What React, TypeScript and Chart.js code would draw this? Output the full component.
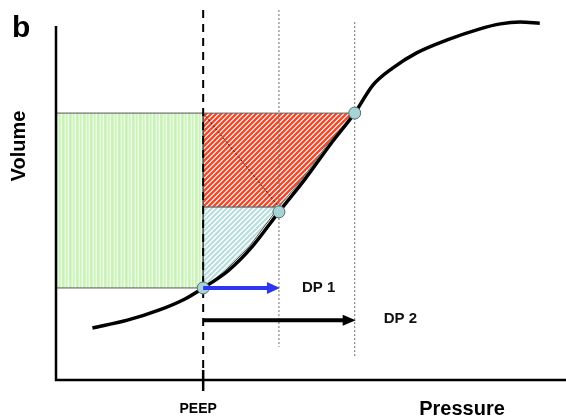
import { useEffect, useRef } from 'react';
import { Chart, registerables } from 'chart.js';

Chart.register(...registerables);

// ---- data (pressure / volume in arbitrary units) ----
const PRESSURE = [2.5, 4.9, 7.1, 8.85, 10.1, 11.8, 13.45, 15.3, 17.1, 18.8, 20.5, 21.75, 23.1, 24.75, 26.8, 29.1, 30.5, 31.85, 33.2];
const VOLUME = [14.7, 16.9, 19.8, 22.9, 26.0, 30.8, 37.6, 47.5, 56.8, 66.4, 75.4, 83.3, 88.1, 92.4, 96.0, 99.2, 100.6, 101.1, 100.8];

const PEEP = 10.1;
const P1 = 15.3;
const P2 = 20.5;
const V_EELV = 26.0;
const V_MID = 48.9;
const V_TOP = 75.4;

const MARKER_P = [PEEP, P1, P2];
const MARKER_V = [26.0, 47.5, 75.4];

const GUIDE_P = [PEEP, P1, P2];
const GUIDE_TOP = [104.5, 104.5, 101.1];
const GUIDE_BOTTOM = [3.0, 9.3, 6.2];

const ARROW_END = [P1, P2];
const ARROW_V = [26.0, 16.9];
const ARROW_LABELS = ['DP 1', 'DP 2'];
const ARROW_COLORS = ['#2f36f2', '#000000'];

const X_MIN = 0;
const X_MAX = 35;
const Y_MIN = 0;
const Y_MAX = 100;

const EDGE_SHIFT = -0.2;
const FONT = '"Liberation Sans", Arial, Helvetica, sans-serif';

function makeGreen(): CanvasPattern | string {
  const c = document.createElement('canvas');
  c.width = 7;
  c.height = 1;
  const g = c.getContext('2d');
  if (!g) return '#d6f6c8';
  const cols = ['#c9f1b6', '#d6f6c8', '#e3fadb', '#cff3be', '#d9f7cc', '#f0fcea', '#cdf2bb'];
  cols.forEach((col, i) => {
    g.fillStyle = col;
    g.fillRect(i, 0, 1, 1);
  });
  return g.createPattern(c, 'repeat') || '#d6f6c8';
}

function makeDiag(bg: string, fg: string, size: number, lw: number): CanvasPattern | string {
  const c = document.createElement('canvas');
  c.width = size;
  c.height = size;
  const g = c.getContext('2d');
  if (!g) return fg;
  g.fillStyle = bg;
  g.fillRect(0, 0, size, size);
  g.strokeStyle = fg;
  g.lineWidth = lw;
  g.beginPath();
  g.moveTo(-1, 1);
  g.lineTo(1, -1);
  g.moveTo(0, size);
  g.lineTo(size, 0);
  g.moveTo(size - 1, size + 1);
  g.lineTo(size + 1, size - 1);
  g.stroke();
  return g.createPattern(c, 'repeat') || fg;
}

const overlay = {
  id: 'overlay',
  afterDatasetsDraw(chart: any) {
    const { ctx, scales } = chart;
    const xs = scales.x;
    const ys = scales.y;
    ctx.save();
    ARROW_END.forEach((end, i) => {
      const x0 = xs.getPixelForValue(PEEP);
      const x1 = xs.getPixelForValue(end);
      const yy = ys.getPixelForValue(ARROW_V[i]);
      const col = ARROW_COLORS[i];
      const head = 12;
      const half = i === 0 ? 6 : 5.5;
      ctx.strokeStyle = col;
      ctx.lineWidth = 4;
      ctx.beginPath();
      ctx.moveTo(x0, yy);
      ctx.lineTo(x1 - head + 1, yy);
      ctx.stroke();
      ctx.fillStyle = col;
      ctx.beginPath();
      ctx.moveTo(x1 + 1, yy);
      ctx.lineTo(x1 - head, yy - half);
      ctx.lineTo(x1 - head, yy + half);
      ctx.closePath();
      ctx.fill();
      ctx.font = 'bold 15px ' + FONT;
      ctx.fillStyle = '#111';
      ctx.textAlign = 'left';
      ctx.textBaseline = 'alphabetic';
      ctx.fillText(ARROW_LABELS[i], x1 + (i === 0 ? 23 : 29), yy + (i === 0 ? 4 : 3));
    });
    ctx.restore();
  },
  afterDraw(chart: any) {
    const { ctx, chartArea: a, scales } = chart;
    const xs = scales.x;
    ctx.save();
    ctx.strokeStyle = '#000';
    ctx.lineWidth = 2.5;
    ctx.beginPath();
    ctx.moveTo(a.left, a.top);
    ctx.lineTo(a.left, a.bottom);
    ctx.lineTo(Math.max(a.right, chart.width) + 2, a.bottom);
    ctx.stroke();
    const px = xs.getPixelForValue(PEEP);
    ctx.beginPath();
    ctx.moveTo(px, a.bottom - 10);
    ctx.lineTo(px, a.bottom + 11);
    ctx.stroke();

    ctx.fillStyle = '#000';
    ctx.textBaseline = 'alphabetic';
    ctx.font = 'bold 30px ' + FONT;
    ctx.textAlign = 'left';
    ctx.fillText('b', 12, 37);

    ctx.font = 'bold 14px ' + FONT;
    ctx.textAlign = 'center';
    ctx.fillText('PEEP', px - 5, 413);

    ctx.font = 'bold 20px ' + FONT;
    ctx.fillText('Pressure', 462, 415);

    ctx.save();
    ctx.translate(25, 146);
    ctx.rotate(-Math.PI / 2);
    ctx.fillText('Volume', 0, 0);
    ctx.restore();
    ctx.restore();
  },
};

export default function App() {
  const ref = useRef<HTMLCanvasElement | null>(null);

  useEffect(() => {
    document.body.style.margin = '0';
    const canvas = ref.current;
    if (!canvas) return;

    const curve = PRESSURE.map((p, i) => ({ x: p, y: VOLUME[i] }));
    const lower = curve.filter((d) => d.x > PEEP && d.x < P1).map((d) => ({ x: d.x + EDGE_SHIFT, y: d.y }));
    const upper = curve
      .filter((d) => d.x > P1 && d.x < P2)
      .map((d) => ({ x: d.x + EDGE_SHIFT, y: d.y }))
      .reverse();

    const green = [
      { x: X_MIN, y: V_TOP },
      { x: PEEP, y: V_TOP },
      { x: PEEP, y: V_EELV },
      { x: X_MIN, y: V_EELV },
      { x: X_MIN, y: V_TOP },
    ];
    const red = [
      { x: PEEP, y: V_TOP },
      { x: P2, y: V_TOP },
      ...upper,
      { x: P1, y: V_MID },
      { x: PEEP, y: V_MID },
      { x: PEEP, y: V_TOP },
    ];
    const blue = [
      { x: PEEP, y: V_EELV },
      ...lower,
      { x: P1, y: V_MID },
      { x: PEEP, y: V_MID },
      { x: PEEP, y: V_EELV },
    ];

    const poly = (data: any[], fill: any, border: string) => ({
      data,
      backgroundColor: fill,
      borderColor: border,
      borderWidth: 1,
      fill: 'shape',
      pointRadius: 0,
      tension: 0,
      order: 20,
    });

    const guides = GUIDE_P.map((p, i) => ({
      data: [
        { x: p, y: GUIDE_TOP[i] },
        { x: p, y: GUIDE_BOTTOM[i] },
      ],
      borderColor: i === 0 ? '#000' : '#6a6a6a',
      borderWidth: i === 0 ? 2 : 1,
      borderDash: i === 0 ? [8, 6] : [2, 2],
      pointRadius: 0,
      fill: false,
      clip: false,
      order: 15,
    }));

    const chart = new Chart(canvas, {
      type: 'line',
      data: {
        datasets: [
          poly(green, makeGreen(), '#555'),
          poly(red, makeDiag('#ffffff', '#ef4a2a', 5, 2.4), '#666'),
          poly(blue, makeDiag('#ffffff', '#b9dede', 5, 2.2), '#555'),
          ...guides,
          {
            data: [
              { x: PEEP, y: V_TOP },
              { x: P1, y: V_MID },
            ],
            borderColor: '#222',
            borderWidth: 1,
            borderDash: [2, 2],
            pointRadius: 0,
            fill: false,
            order: 12,
          },
          {
            data: curve,
            borderColor: '#000',
            borderWidth: 3.5,
            cubicInterpolationMode: 'monotone',
            pointRadius: 0,
            fill: false,
            clip: false,
            order: 5,
          },
          {
            data: MARKER_P.map((p, i) => ({ x: p, y: MARKER_V[i] })),
            showLine: false,
            pointRadius: 6,
            pointBackgroundColor: '#a8d3d4',
            pointBorderColor: '#4f7273',
            pointBorderWidth: 1,
            order: 1,
          },
        ] as any,
      },
      options: {
        responsive: false,
        animation: false,
        events: [],
        layout: { autoPadding: false, padding: { left: 56, right: 0, top: 26, bottom: 40 } },
        scales: {
          x: { type: 'linear', min: X_MIN, max: X_MAX, display: false },
          y: { type: 'linear', min: Y_MIN, max: Y_MAX, display: false },
        },
        plugins: {
          legend: { display: false },
          tooltip: { enabled: false },
        },
      },
      plugins: [overlay],
    });

    return () => chart.destroy();
  }, []);

  return (
    <div style={{ width: 566, height: 420 }}>
      <canvas ref={ref} width={566} height={420} style={{ display: 'block' }} />
    </div>
  );
}
